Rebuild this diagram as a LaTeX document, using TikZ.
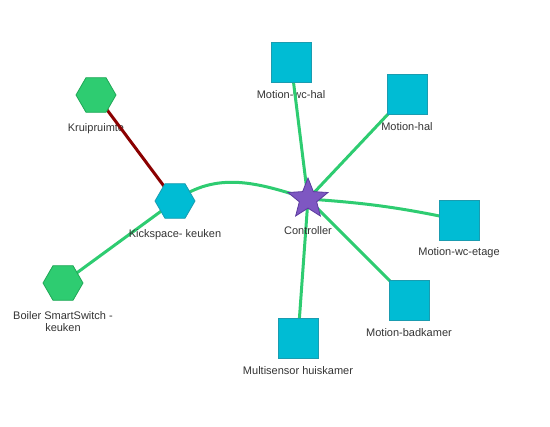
\documentclass[tikz,border=0pt]{standalone}
\usepackage{fontspec}
\setmainfont{Liberation Sans}
\usetikzlibrary{shapes.geometric,backgrounds}
\definecolor{edgegreen}{HTML}{2ECC71}
\definecolor{edgered}{HTML}{8B0000}
\definecolor{cyanfill}{HTML}{00BCD4}
\definecolor{cyanline}{HTML}{1A9CB0}
\definecolor{greenfill}{HTML}{2ECC71}
\definecolor{greenline}{HTML}{1FA856}
\definecolor{starfill}{HTML}{7E57C2}
\definecolor{starline}{HTML}{5B3A9E}
\definecolor{txt}{HTML}{333333}
\tikzset{
  hexgreen/.style={regular polygon, regular polygon sides=6, minimum size=40pt, inner sep=0pt, fill=greenfill, draw=greenline, line width=0.8pt},
  hexcyan/.style={regular polygon, regular polygon sides=6, minimum size=40pt, inner sep=0pt, fill=cyanfill, draw=cyanline, line width=0.8pt},
  sq/.style={rectangle, minimum size=40pt, inner sep=0pt, fill=cyanfill, draw=cyanline, line width=0.8pt},
  starnode/.style={star, star points=5, star point ratio=2.3, minimum size=42pt, inner sep=0pt, fill=starfill, draw=starline, line width=0.8pt},
  lbl/.style={inner sep=0pt, text=txt, font=\fontsize{11}{12}\selectfont, align=center},
  gedge/.style={draw=edgegreen, line width=3pt},
  redge/.style={draw=edgered, line width=3pt},
}
\begin{document}
\begin{tikzpicture}[x=1pt,y=1pt]
\useasboundingbox (0,0) rectangle (550,427);
% nodes (y = 427 - pixel row)
\node[hexgreen] (krui) at (96,332) {};
\node[hexcyan] (kick) at (175,226) {};
\node[hexgreen] (boiler) at (63,144) {};
\node[starnode] (ctrl) at (308,228) {};
\node[sq] (wchal) at (291,365) {};
\node[sq] (hal) at (407,333) {};
\node[sq] (wcetage) at (459,207) {};
\node[sq] (bad) at (409,127) {};
\node[sq] (multi) at (298,89) {};
% labels drawn above edges
\node[lbl] (lkick) at (175,192) {Kickspace- keuken};
\node[lbl] (lboiler) at (63,105) {Boiler SmartSwitch -\\keuken};
\node[lbl] (lctrl) at (308,196) {Controller};
\node[lbl] (lhal) at (407,300) {Motion-hal};
\node[lbl] (lwcetage) at (459,174) {Motion-wc-etage};
\node[lbl] (lbad) at (409,94) {Motion-badkamer};
\node[lbl] (lmulti) at (298,56) {Multisensor huiskamer};
\begin{scope}[on background layer]
% labels drawn under edges
\node[lbl] (lkrui) at (96,298) {Kruipruimte};
\node[lbl] (lwchal) at (291,332) {Motion-wc-hal};
% edges
\draw[redge] (krui.center) -- (kick.center);
\draw[gedge] (boiler.center) -- (kick.center);
\draw[gedge] (kick.center) to[out=36,in=162] (ctrl.center);
\draw[gedge] (ctrl.center) -- (wchal.center);
\draw[gedge] (ctrl.center) -- (hal.center);
\draw[gedge] (ctrl.center) to[bend left=4] (wcetage.center);
\draw[gedge] (ctrl.center) -- (bad.center);
\draw[gedge] (ctrl.center) -- (multi.center);
\end{scope}
\end{tikzpicture}
\end{document}
